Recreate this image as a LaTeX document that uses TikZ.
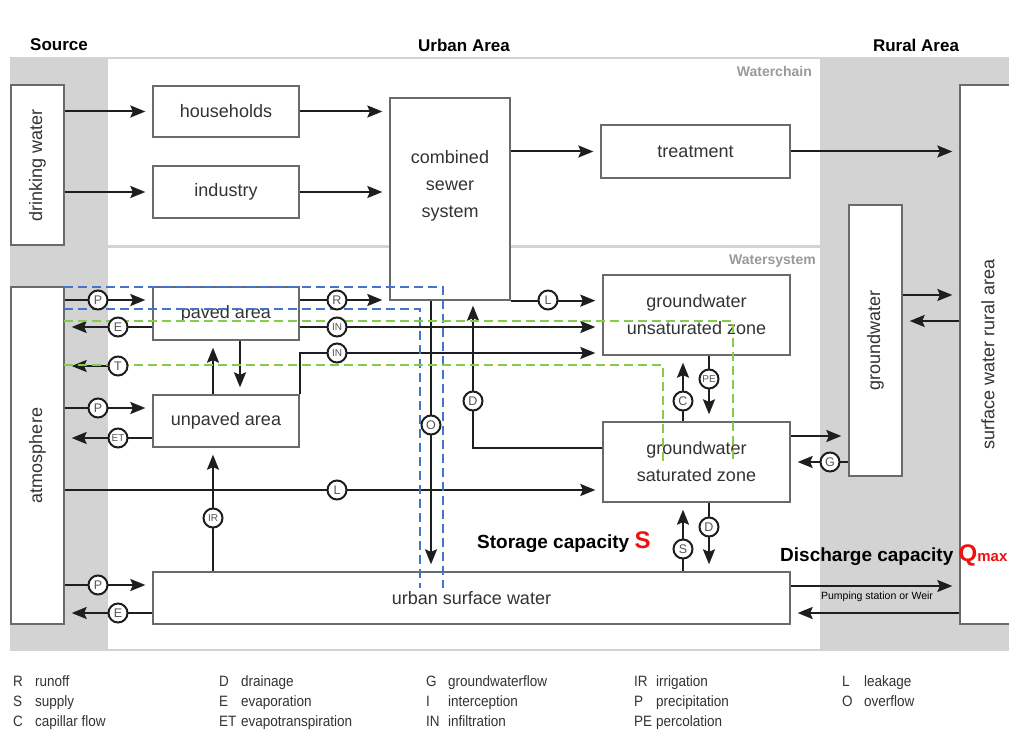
\documentclass[tikz,border=0pt]{standalone}
\usepackage{fontspec}
\setmainfont{Liberation Sans}
\newfontfamily\legendfont[FakeStretch=0.9]{Liberation Sans}
\usetikzlibrary{arrows.meta}

\definecolor{ink}{HTML}{1E1E1E}
\definecolor{boxline}{HTML}{6A6A6A}
\definecolor{txt}{HTML}{333333}
\definecolor{band}{HTML}{D3D3D3}
\definecolor{paneltitle}{HTML}{9A9A9A}
\definecolor{tagtxt}{HTML}{555555}
\definecolor{sewerblue}{HTML}{4473CF}
\definecolor{greenzone}{HTML}{86CC4A}
\definecolor{capred}{HTML}{F01010}

\begin{document}
\begin{tikzpicture}[x=1pt,y=-1pt,
  box/.style={draw=boxline, line width=1.3pt, fill=white, inner sep=0pt,
    font=\fontsize{18}{27}\selectfont, text=txt, align=center},
  boxtext/.style={font=\fontsize{18}{27}\selectfont, text=txt, align=center, inner sep=0pt},
  flow/.style={draw=ink, line width=2pt, shorten >=7pt,
    -{Stealth[length=15pt,width=12pt,inset=2.5pt]}},
  tag/.style={circle, draw=ink, line width=2pt, fill=white, minimum size=19pt,
    inner sep=0pt, text=tagtxt, font=\fontsize{12.5}{12.5}\selectfont},
  tagsmall/.style={tag, font=\fontsize{10}{10}\selectfont},
  heading/.style={font=\fontsize{17}{17}\selectfont\bfseries, text=black, inner sep=0pt},
  panel/.style={font=\fontsize{14}{14}\selectfont\bfseries, text=paneltitle, inner sep=0pt, anchor=east},
  bluedash/.style={draw=sewerblue, line width=1.8pt, dash pattern=on 9pt off 5pt},
  greendash/.style={draw=greenzone, line width=1.8pt, dash pattern=on 9pt off 5pt},
  legab/.style={font=\legendfont\fontsize{15}{15}\selectfont, text=txt, anchor=west,
    inner sep=0pt, text height=11pt, text depth=3pt},
]
\useasboundingbox (0,0) rectangle (1009,746);
\fill[white] (0,0) rectangle (1009,746);

% background bands and the two white panels
\fill[band] (10,57) rectangle (1009,651);
\fill[white] (108,59) rectangle (820,245);
\fill[white] (108,248) rectangle (820,649);

% column headings and panel titles
\node[heading] (hSource) at (59,45) {Source};
\node[heading] (hUrban) at (464,45) {Urban Area};
\node[heading] (hRural) at (916,45) {Rural Area};
\node[panel] (pChain) at (812,71) {Waterchain};
\node[panel] (pSystem) at (816,261) {Watersystem};

% boxes
\node[box, minimum width=53pt, minimum height=160pt] (drink) at (37.5,165) {};
\node[boxtext, rotate=90] (drinkT) at (drink) {drinking water};
\node[box, minimum width=146pt, minimum height=51pt] (hh) at (226,111.5) {households};
\node[box, minimum width=146pt, minimum height=52pt] (ind) at (226,192) {industry};
\node[box, minimum width=120pt, minimum height=202pt] (sewer) at (450,199) {};
\node[boxtext] (sewerT) at (450,186) {combined\\sewer\\system};
\node[box, minimum width=189pt, minimum height=53pt] (treat) at (695.5,151.5) {treatment};

\node[box, minimum width=53pt, minimum height=337pt] (atm) at (37.5,455.5) {};
\node[boxtext, rotate=90] (atmT) at (atm) {atmosphere};
\node[box, minimum width=146pt, minimum height=53pt] (paved) at (226,313.5) {paved area};
\node[box, minimum width=146pt, minimum height=52pt] (unpaved) at (226,421) {unpaved area};
\node[box, minimum width=187pt, minimum height=80pt] (unsat) at (696.5,315) {groundwater\\unsaturated zone};
\node[box, minimum width=187pt, minimum height=80pt] (sat) at (696.5,462) {groundwater\\saturated zone};
\node[box, minimum width=53pt, minimum height=271pt] (gw) at (875.5,340.5) {};
\node[boxtext, rotate=90] (gwT) at (gw) {groundwater};
\node[box, minimum width=60pt, minimum height=539pt] (swr) at (990,354.5) {};
\node[boxtext, rotate=90] (swrT) at (988,354.5) {surface water rural area};
\node[box, minimum width=637pt, minimum height=52pt] (usw) at (471.5,598) {urban surface water};

% levels of the horizontal flows and positions of the vertical ones
\coordinate (yP1) at (0,300);
\coordinate (yE1) at (0,327);
\coordinate (yIN2) at (0,353);
\coordinate (yP2) at (0,408);
\coordinate (yET) at (0,438);
\coordinate (yL) at (0,490);
\coordinate (yP3) at (0,585);
\coordinate (yE3) at (0,613);
\coordinate (yDr) at (0,448);
\coordinate (yGo) at (0,436);
\coordinate (yGi) at (0,462);
\coordinate (yGr1) at (0,295);
\coordinate (yGr2) at (0,321);
\coordinate (yQ1) at (0,586);
\coordinate (yQ2) at (0,613);
\coordinate (xUp) at (213,0);
\coordinate (xDown) at (240,0);
\coordinate (xO) at (431,0);
\coordinate (xD) at (473,0);
\coordinate (xC) at (683,0);
\coordinate (xPE) at (709,0);

% water chain
\draw[flow] (drink.east |- hh) -- (hh.west);
\draw[flow] (drink.east |- ind) -- (ind.west);
\draw[flow] (hh.east) -- (sewer.west |- hh.east);
\draw[flow] (ind.east) -- (sewer.west |- ind.east);
\draw[flow] (sewer.east |- treat) -- (treat.west);
\draw[flow] (treat.east) -- (swr.west |- treat.east);

% water system
\draw[flow] (atm.east |- yP1) -- (paved.west |- yP1);
\draw[flow] (paved.west |- yE1) -- (atm.east |- yE1);
\draw[flow] (atm.east |- yP2) -- (unpaved.west |- yP2);
\draw[flow] (unpaved.west |- yET) -- (atm.east |- yET);
\draw[flow] (atm.east |- yL) -- (sat.west |- yL);
\draw[flow] (atm.east |- yP3) -- (usw.west |- yP3);
\draw[flow] (usw.west |- yE3) -- (atm.east |- yE3);

\draw[flow] (paved.east |- yP1) -- (sewer.west |- yP1);
\draw[flow] (paved.east |- yE1) -- (unsat.west |- yE1);
\draw[flow] (unpaved.north east) -- (unpaved.north east |- yIN2) -- (unsat.west |- yIN2);
\draw[flow] (xDown |- paved.south) -- (xDown |- unpaved.north);
\draw[flow] (xUp |- unpaved.north) -- (xUp |- paved.south);
\draw[flow] (xUp |- usw.north) -- (xUp |- unpaved.south);

\draw[flow] (xO |- sewer.south) -- (xO |- usw.north);
\draw[flow, shorten >=5pt] (sat.west |- yDr) -- (xD |- yDr) -- (xD |- sewer.south);
\draw[flow] (sewer.south east) -- (sewer.south east -| unsat.west);

\draw[flow] (xPE |- unsat.south) -- (xPE |- sat.north);
\draw[flow] (xC |- sat.north) -- (xC |- unsat.south);
\draw[flow] (xPE |- sat.south) -- (xPE |- usw.north);
\draw[flow] (xC |- usw.north) -- (xC |- sat.south);

\draw[flow] (sat.east |- yGo) -- (gw.west |- yGo);
\draw[flow] (gw.west |- yGi) -- (sat.east |- yGi);
\draw[flow] (gw.east |- yGr1) -- (swr.west |- yGr1);
\draw[flow] (swr.west |- yGr2) -- (gw.east |- yGr2);
\draw[flow] (usw.east |- yQ1) -- (swr.west |- yQ1);
\draw[flow] (swr.west |- yQ2) -- (usw.east |- yQ2);

% transpiration leaves the vegetated zone only
\coordinate (tStart) at (128,366);
\draw[flow] (tStart) -- (atm.east |- tStart);

% sewer catchment and vegetated zone outlines
\draw[bluedash] (64,287) -- (443,287) -- (443,588);
\draw[bluedash] (64,309) -- (420,309) -- (420,588);
\draw[greendash] (64,321) -- (733,321) -- (733,463);
\draw[greendash] (64,365) -- (663,365) -- (663,463);

% flow tags
\node[tag] (tP1) at (98,300) {P};
\node[tag] (tE1) at (118,327) {E};
\node[tag] (tT) at (118,366) {T};
\node[tag] (tP2) at (98,408) {P};
\node[tagsmall] (tET) at (118,438) {ET};
\node[tag] (tL1) at (337,490) {L};
\node[tag] (tP3) at (98,585) {P};
\node[tag] (tE3) at (118,613) {E};
\node[tag] (tR) at (337,300) {R};
\node[tagsmall] (tIN1) at (337,327) {IN};
\node[tagsmall] (tIN2) at (337,353) {IN};
\node[tagsmall] (tIR) at (213,518) {IR};
\node[tag] (tO) at (431,425) {O};
\node[tag] (tD1) at (473,401) {D};
\node[tag] (tL2) at (548,300) {L};
\node[tagsmall] (tPE) at (709,379) {PE};
\node[tag] (tC) at (683,401) {C};
\node[tag] (tG) at (830,462) {G};
\node[tag] (tD2) at (709,527) {D};
\node[tag] (tS) at (683,549) {S};

% capacities
\node[anchor=base west, inner sep=0pt, font=\fontsize{19}{19}\selectfont\bfseries] (stor) at (477,548)
  {Storage capacity \textcolor{capred}{\fontsize{24}{24}\selectfont S}};
\node[anchor=base west, inner sep=0pt, font=\fontsize{19}{19}\selectfont\bfseries] (disch) at (780,561)
  {Discharge capacity \textcolor{capred}{\fontsize{24}{24}\selectfont Q\fontsize{15}{15}\selectfont max}};
\node[inner sep=0pt, font=\fontsize{10.5}{10.5}\selectfont] (pump) at (877,597) {Pumping station or Weir};

% legend
\foreach \x/\y/\a/\t [count=\i] in {
  13/682/R/runoff, 13/702/S/supply, 13/722/C/capillar flow,
  219/682/D/drainage, 219/702/E/evaporation, 219/722/ET/evapotranspiration,
  426/682/G/groundwaterflow, 426/702/I/interception, 426/722/IN/infiltration,
  634/682/IR/irrigation, 634/702/P/precipitation, 634/722/PE/percolation,
  842/682/L/leakage, 842/702/O/overflow}
{
  \node[legab] (lega\i) at (\x,\y) {\a};
  \node[legab] (legt\i) at (\x+22,\y) {\t};
}
\end{tikzpicture}
\end{document}
